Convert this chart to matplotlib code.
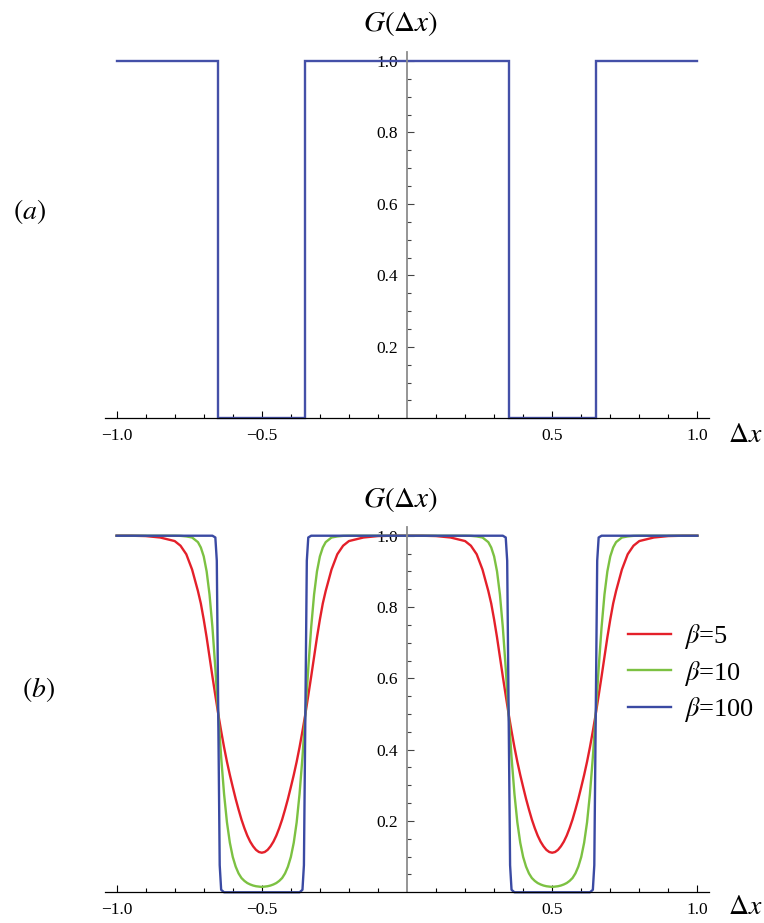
import matplotlib
matplotlib.use('Agg')
import matplotlib.pyplot as plt
from matplotlib.ticker import FixedLocator, FixedFormatter

plt.rcParams['font.family'] = ['Liberation Serif', 'DejaVu Serif']
plt.rcParams['mathtext.fontset'] = 'stix'

# ---------------- data ----------------
# panel (a): ideal window function
step_x = [-1.0, -0.65, -0.65, -0.35, -0.35, 0.35, 0.35, 0.65, 0.65, 1.0]
step_y = [1.0, 1.0, 0.0, 0.0, 1.0, 1.0, 0.0, 0.0, 1.0, 1.0]

# panel (b): smooth versions
x_left = [-1.00, -0.95, -0.90, -0.85, -0.80, -0.78, -0.76, -0.74, -0.72, -0.71,
          -0.70, -0.69, -0.68, -0.67, -0.66, -0.65, -0.64, -0.63, -0.62, -0.61,
          -0.60, -0.59, -0.58, -0.57, -0.56, -0.55, -0.54, -0.53, -0.52, -0.51,
          -0.50, -0.49, -0.48, -0.47, -0.46, -0.45, -0.44, -0.43, -0.42, -0.41,
          -0.40, -0.39, -0.38, -0.37, -0.36, -0.35, -0.34, -0.33, -0.32, -0.31,
          -0.30, -0.29, -0.28, -0.26, -0.24, -0.22, -0.20, -0.15, -0.10, -0.05]
x_right = [0.00, 0.05, 0.10, 0.15, 0.20, 0.22, 0.24, 0.26, 0.28, 0.29,
           0.30, 0.31, 0.32, 0.33, 0.34, 0.35, 0.36, 0.37, 0.38, 0.39,
           0.40, 0.41, 0.42, 0.43, 0.44, 0.45, 0.46, 0.47, 0.48, 0.49,
           0.50, 0.51, 0.52, 0.53, 0.54, 0.55, 0.56, 0.57, 0.58, 0.59,
           0.60, 0.61, 0.62, 0.63, 0.64, 0.65, 0.66, 0.67, 0.68, 0.69,
           0.70, 0.71, 0.72, 0.74, 0.76, 0.78, 0.80, 0.85, 0.90, 0.95, 1.00]

red_left = [1.000, 1.000, 0.999, 0.995, 0.985, 0.972, 0.948, 0.905, 0.845, 0.810,
            0.765, 0.715, 0.660, 0.605, 0.552, 0.500, 0.452, 0.407, 0.366, 0.329,
            0.295, 0.262, 0.232, 0.204, 0.180, 0.159, 0.142, 0.129, 0.119, 0.113,
            0.111, 0.113, 0.119, 0.129, 0.142, 0.159, 0.180, 0.204, 0.232, 0.262,
            0.295, 0.329, 0.366, 0.407, 0.452, 0.500, 0.552, 0.605, 0.660, 0.715,
            0.765, 0.810, 0.845, 0.905, 0.948, 0.972, 0.985, 0.995, 0.999, 1.000]
red_right = [1.000, 1.000, 0.999, 0.995, 0.985, 0.972, 0.948, 0.905, 0.845, 0.810,
             0.765, 0.715, 0.660, 0.605, 0.552, 0.500, 0.452, 0.407, 0.366, 0.329,
             0.295, 0.262, 0.232, 0.204, 0.180, 0.159, 0.142, 0.129, 0.119, 0.113,
             0.111, 0.113, 0.119, 0.129, 0.142, 0.159, 0.180, 0.204, 0.232, 0.262,
             0.295, 0.329, 0.366, 0.407, 0.452, 0.500, 0.552, 0.605, 0.660, 0.715,
             0.765, 0.810, 0.845, 0.905, 0.948, 0.972, 0.985, 0.995, 0.999, 1.000, 1.000]

green_left = [1.000, 1.000, 1.000, 1.000, 1.000, 0.9996, 0.998, 0.995, 0.982, 0.967,
              0.942, 0.900, 0.835, 0.743, 0.628, 0.500, 0.379, 0.276, 0.196, 0.139,
              0.099, 0.072, 0.053, 0.040, 0.032, 0.026, 0.022, 0.019, 0.017, 0.016,
              0.015, 0.016, 0.017, 0.019, 0.022, 0.026, 0.032, 0.040, 0.053, 0.072,
              0.099, 0.139, 0.196, 0.276, 0.379, 0.500, 0.628, 0.743, 0.835, 0.900,
              0.942, 0.967, 0.982, 0.995, 0.998, 0.9996, 1.000, 1.000, 1.000, 1.000]
green_right = [1.000, 1.000, 1.000, 1.000, 1.000, 0.9996, 0.998, 0.995, 0.982, 0.967,
               0.942, 0.900, 0.835, 0.743, 0.628, 0.500, 0.379, 0.276, 0.196, 0.139,
               0.099, 0.072, 0.053, 0.040, 0.032, 0.026, 0.022, 0.019, 0.017, 0.016,
               0.015, 0.016, 0.017, 0.019, 0.022, 0.026, 0.032, 0.040, 0.053, 0.072,
               0.099, 0.139, 0.196, 0.276, 0.379, 0.500, 0.628, 0.743, 0.835, 0.900,
               0.942, 0.967, 0.982, 0.995, 0.998, 0.9996, 1.000, 1.000, 1.000, 1.000, 1.000]

blue_x = [-1.00, -0.67, -0.66, -0.655, -0.65, -0.645, -0.64, -0.63, -0.50,
          -0.37, -0.36, -0.355, -0.35, -0.345, -0.34, -0.33,
          0.00, 0.33, 0.34, 0.345, 0.35, 0.355, 0.36, 0.37, 0.50,
          0.63, 0.64, 0.645, 0.65, 0.655, 0.66, 0.67, 1.00]
blue_y = [1.0, 1.0, 0.995, 0.93, 0.5, 0.076, 0.007, 0.0, 0.0,
          0.0, 0.007, 0.076, 0.5, 0.93, 0.995, 1.0,
          1.0, 1.0, 0.995, 0.93, 0.5, 0.076, 0.007, 0.0, 0.0,
          0.0, 0.007, 0.076, 0.5, 0.93, 0.995, 1.0, 1.0]

series_labels = [r'$\beta$=5', r'$\beta$=10', r'$\beta$=100']
series_colors = ['#E4202A', '#7CC142', '#3A4AA3']

xtick_major = [-1.0, -0.5, 0.5, 1.0]
xtick_labels = ['\u22121.0', '\u22120.5', '0.5', '1.0']
xtick_minor = [-0.9, -0.8, -0.7, -0.6, -0.4, -0.3, -0.2, -0.1,
               0.1, 0.2, 0.3, 0.4, 0.6, 0.7, 0.8, 0.9]
ytick_major = [0.2, 0.4, 0.6, 0.8, 1.0]
ytick_labels = ['0.2', '0.4', '0.6', '0.8', '1.0']
ytick_minor = [0.05, 0.1, 0.15, 0.25, 0.3, 0.35, 0.45, 0.5, 0.55,
               0.65, 0.7, 0.75, 0.85, 0.9, 0.95]

# ---------------- figure ----------------
W, H = 764, 923
fig = plt.figure(figsize=(W / 100, H / 100), dpi=100)


def px_axes(left, right, bottom, top):
    return fig.add_axes([left / W, (H - bottom) / H, (right - left) / W, (bottom - top) / H])


def style(ax):
    ax.set_xlim(-1.04, 1.04)
    ax.set_ylim(0, 1.025)
    ax.patch.set_visible(False)
    for s in ['top', 'right']:
        ax.spines[s].set_visible(False)
    ax.spines['left'].set_position(('data', 0))
    ax.spines['bottom'].set_position(('data', 0))
    ax.spines['left'].set_color('#8c8c8c')
    ax.spines['left'].set_linewidth(1.3)
    ax.spines['bottom'].set_color('black')
    ax.spines['bottom'].set_linewidth(0.9)
    ax.xaxis.set_major_locator(FixedLocator(xtick_major))
    ax.xaxis.set_major_formatter(FixedFormatter(xtick_labels))
    ax.xaxis.set_minor_locator(FixedLocator(xtick_minor))
    ax.yaxis.set_major_locator(FixedLocator(ytick_major))
    ax.yaxis.set_major_formatter(FixedFormatter(ytick_labels))
    ax.yaxis.set_minor_locator(FixedLocator(ytick_minor))
    ax.tick_params(axis='x', which='both', direction='in', color='black', width=0.8,
                   labelsize=12.5, pad=7)
    ax.tick_params(axis='x', which='major', length=5)
    ax.tick_params(axis='x', which='minor', length=3)
    ax.tick_params(axis='y', which='both', direction='in', color='#444444', width=0.8,
                   labelsize=12.5, pad=6.5)
    ax.tick_params(axis='y', which='major', length=5)
    ax.tick_params(axis='y', which='minor', length=3)


ax_a = px_axes(105, 709, 418.3, 52.1)
style(ax_a)
ax_a.plot(step_x, step_y, color='#4450A8', lw=1.7, clip_on=False, solid_joinstyle='miter')

ax_b = px_axes(105, 709, 892.3, 526.8)
style(ax_b)
ax_b.plot(x_left + x_right, red_left + red_right, color=series_colors[0], lw=1.7,
          label=series_labels[0], clip_on=False)
ax_b.plot(x_left + x_right, green_left + green_right, color=series_colors[1], lw=1.7,
          label=series_labels[1], clip_on=False)
ax_b.plot(blue_x, blue_y, color=series_colors[2], lw=1.7, label=series_labels[2],
          clip_on=False)

ax_b.legend(loc='center left', bbox_to_anchor=(628 / W, (H - 673) / H),
            bbox_transform=fig.transFigure, frameon=False, fontsize=19,
            handlelength=1.63, handletextpad=0.5, labelspacing=0.28,
            borderpad=0, borderaxespad=0)


def ftext(x, y, s, **kw):
    fig.text(x / W, (H - y) / H, s, ha='center', va='center', **kw)


ftext(400, 24, r'$G(\Delta x)$', fontsize=21)
ftext(745, 435, r'$\Delta x$', fontsize=20)
ftext(400, 500, r'$G(\Delta x)$', fontsize=21)
ftext(745, 907, r'$\Delta x$', fontsize=20)
ftext(30, 212, r'$(a)$', fontsize=20)
ftext(38, 690, r'$(b)$', fontsize=20)

fig.savefig('out.png', dpi=100)
